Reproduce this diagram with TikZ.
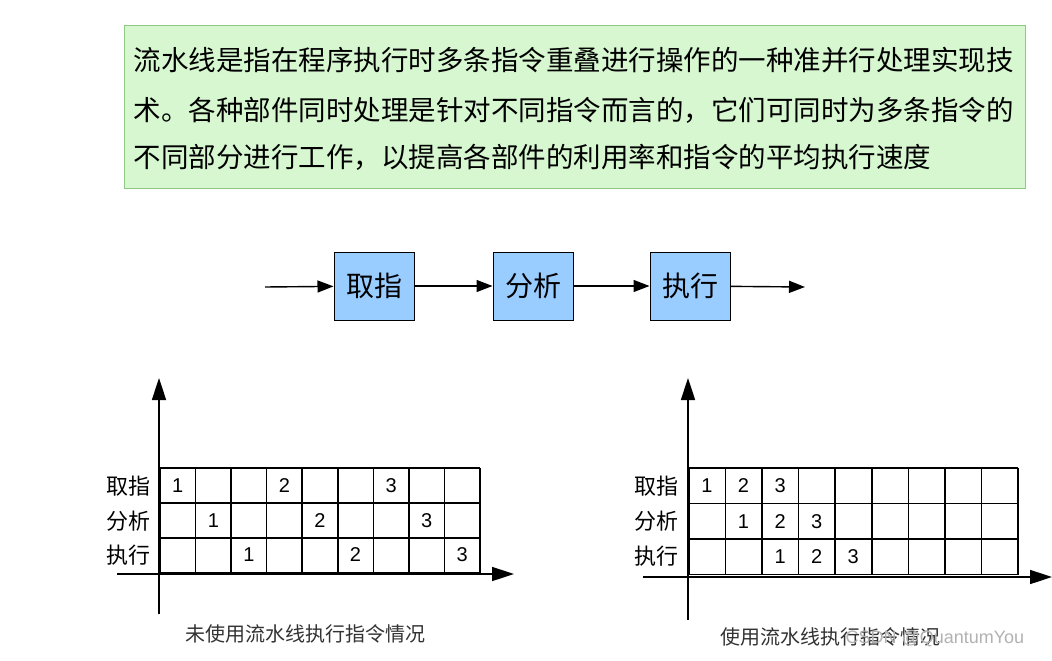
\documentclass[tikz,border=0pt]{standalone}
\usepackage{fontspec}
\setmainfont{Liberation Sans}
\newfontfamily\cjk{Noto Sans CJK SC}
\usetikzlibrary{arrows.meta}
\definecolor{topfill}{RGB}{214,247,208}
\definecolor{topline}{RGB}{140,200,130}
\definecolor{boxfill}{RGB}{153,204,255}
\tikzset{
  stage/.style={draw=black, line width=1pt, fill=boxfill, minimum width=80pt, minimum height=68pt, font=\cjk\fontsize{28}{30}\selectfont},
  flow/.style={-{Triangle[length=16pt,width=12pt]}, line width=1.4pt},
  axis/.style={-{Triangle[length=22pt,width=14pt]}, line width=1.6pt},
  gridline/.style={line width=1.6pt},
  cell/.style={font=\fontsize{20}{22}\selectfont},
  rowlab/.style={font=\cjk\fontsize{22}{24}\selectfont},
  chartcap/.style={font=\cjk\fontsize{20}{22}\selectfont, text=black!80},
}
\begin{document}
\begin{tikzpicture}[x=1pt,y=-1pt]
\useasboundingbox (0,0) rectangle (1052,661);
\fill[white] (0,0) rectangle (1052,661);
% top text box
\node[draw=topline, line width=1pt, fill=topfill, minimum width=901pt, minimum height=163pt, anchor=north west] (intro) at (124,25) {};
\node[anchor=west, font=\cjk\fontsize{27.5}{29}\selectfont] (l1) at (130,60) {流水线是指在程序执行时多条指令重叠进行操作的一种准并行处理实现技};
\node[anchor=west, font=\cjk\fontsize{27.5}{29}\selectfont] (l2) at (130,110) {术。各种部件同时处理是针对不同指令而言的，它们可同时为多条指令的};
\node[anchor=west, font=\cjk\fontsize{27.5}{29}\selectfont] (l3) at (130,157) {不同部分进行工作，以提高各部件的利用率和指令的平均执行速度};
% flow
\coordinate (fin) at (265,287);
\coordinate (fout) at (805,287);
\node[stage] (s1) at (374,286) {取指};
\node[stage] (s2) at (533,286) {分析};
\node[stage] (s3) at (690,286) {执行};
\draw[flow] (fin) -- (s1);
\draw[flow] (s1) -- (s2);
\draw[flow] (s2) -- (s3);
\draw[flow] (s3) -- (fout);
% left chart
\coordinate (lvo) at (159,614); \coordinate (lvt) at (159,378);
\coordinate (lho) at (117,574); \coordinate (lht) at (514,574);
\draw[axis] (lvo) -- (lvt);
\draw[axis] (lho) -- (lht);
\foreach \i in {0,...,9} \draw[gridline] (160+\i*35.55,468) -- (160+\i*35.55,573);
\foreach \j in {0,...,3} \draw[gridline] (160,468+\j*35) -- (480,468+\j*35);
\foreach \c/\r/\t in {0/0/1,3/0/2,6/0/3,1/1/1,4/1/2,7/1/3,2/2/1,5/2/2,8/2/3}
  \node[cell] at (177.8+\c*35.55, 486+\r*34.5) {\t};
\node[rowlab] (la) at (128,486) {取指};
\node[rowlab] (lb) at (128,521) {分析};
\node[rowlab] (lc) at (128,555) {执行};
\node[chartcap] (lcap) at (305,634) {未使用流水线执行指令情况};
% right chart
\coordinate (rvo) at (688,620); \coordinate (rvt) at (688,378);
\coordinate (rho) at (643,577); \coordinate (rht) at (1052,577);
\draw[axis] (rvo) -- (rvt);
\draw[axis] (rho) -- (rht);
\foreach \i in {0,...,9} \draw[gridline] (689+\i*36.55,468) -- (689+\i*36.55,574.5);
\foreach \j in {0,...,3} \draw[gridline] (689,468+\j*35.5) -- (1018,468+\j*35.5);
\foreach \c/\r/\t in {0/0/1,1/0/2,2/0/3,1/1/1,2/1/2,3/1/3,2/2/1,3/2/2,4/2/3}
  \node[cell] at (707+\c*36.55, 486+\r*35.5) {\t};
\node[rowlab] (ra) at (656,486) {取指};
\node[rowlab] (rb) at (656,521) {分析};
\node[rowlab] (rc) at (656,556) {执行};
\node[chartcap] (rcap) at (830,637) {使用流水线执行指令情况};
\node[font=\fontsize{18}{20}\selectfont, text=black!30, anchor=west] (wm) at (842,639) {CSDN @QuantumYou};
\end{tikzpicture}
\end{document}
